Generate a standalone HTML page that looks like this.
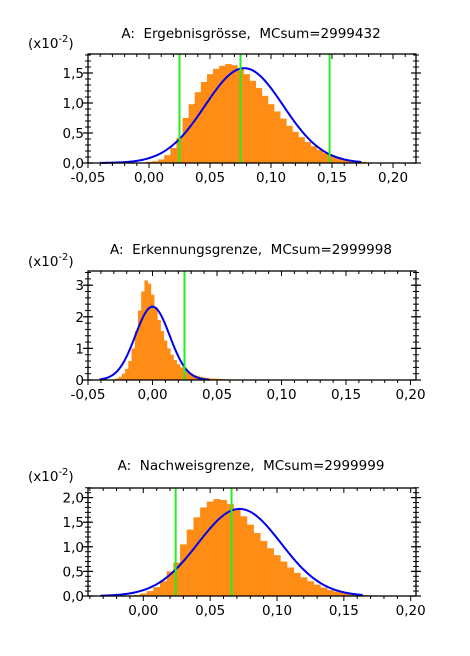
<!DOCTYPE html>
<html><head><meta charset="utf-8"><style>
body{margin:0;background:#fff;width:470px;height:651px;overflow:hidden}
svg{font-family:"DejaVu Sans","Liberation Sans",sans-serif}
svg text{white-space:pre}
</style></head><body>
<svg id="s" width="470" height="651"></svg>
<script>
// Chart 1 data: Ergebnisgroesse
const c1Start = 0.0, c1Step = 0.005;
const c1Hist = [0.02,0.03,0.06,0.13,0.25,0.42,0.75,0.98,1.18,1.35,1.48,1.57,1.62,1.65,1.63,1.57,1.48,1.37,1.25,1.12,0.98,0.86,0.74,0.62,0.52,0.43,0.35,0.28,0.22,0.17,0.13,0.1,0.07,0.05,0.035,0.02,0.01];
const c1Fit = [0.078, 0.032, 1.58]; // mean, sd, peak
const c1Green = [0.025, 0.075, 0.148];
const c1XTicks = ["-0,05","0,00","0,05","0,10","0,15","0,20"];
const c1XTickVals = [-0.05,0,0.05,0.1,0.15,0.2];
const c1YTicks = ["0,0","0,5","1,0","1,5"];
const c1YTickVals = [0,0.5,1.0,1.5];
// Chart 2 data: Erkennungsgrenze
const c2Start = -0.03, c2Step = 0.0025;
const c2Hist = [0.02,0.05,0.1,0.2,0.35,0.6,1.0,1.55,2.2,2.8,3.15,3.05,2.7,2.3,1.9,1.55,1.25,1.0,0.8,0.63,0.5,0.4,0.32,0.25,0.2,0.16,0.13,0.1,0.08,0.065,0.05,0.045,0.04,0.035,0.03,0.025,0.02,0.018,0.015,0.012,0.01];
const c2Fit = [0.0, 0.0133, 2.32];
const c2Green = [0.0248];
const c2XTicks = ["-0,05","0,00","0,05","0,10","0,15","0,20"];
const c2XTickVals = [-0.05,0,0.05,0.1,0.15,0.2];
const c2YTicks = ["0","1","2","3"];
const c2YTickVals = [0,1,2,3];
// Chart 3 data: Nachweisgrenze
const c3Start = -0.005, c3Step = 0.005;
const c3Hist = [0.02,0.05,0.1,0.18,0.3,0.5,0.68,1.05,1.35,1.6,1.8,1.92,1.97,1.95,1.87,1.75,1.62,1.45,1.28,1.12,0.97,0.83,0.7,0.58,0.47,0.38,0.3,0.23,0.17,0.12,0.09,0.065,0.045,0.03,0.02,0.015,0.01,0.005,0.003,0.002];
const c3Fit = [0.072, 0.031, 1.77];
const c3Green = [0.0242, 0.066];
const c3XTicks = ["0,00","0,05","0,10","0,15","0,20"];
const c3XTickVals = [0,0.05,0.1,0.15,0.2];
const c3YTicks = ["0,0","0,5","1,0","1,5","2,0"];
const c3YTickVals = [0,0.5,1.0,1.5,2.0];

const NS="http://www.w3.org/2000/svg";
const svg=document.getElementById('s');
function mk(tag,attrs,parent){const e=document.createElementNS(NS,tag);for(const k in attrs)e.setAttribute(k,attrs[k]);(parent||svg).appendChild(e);return e;}

function chart(o){
  const g=mk('g',{});
  
  
  const X=v=>o.x0+(v-o.xmin)*o.xs;
  const Y=v=>o.yb-v*o.ys;
  const hg=mk('g',{},g);
  
  
  o.hist.forEach((h,i)=>{
    const c=o.start+i*o.step;
    const xa=X(c-o.step/2), xb=X(c+o.step/2);
    const r=mk('rect',{x:xa,y:Y(h),width:Math.max(0.5,xb-xa)+0.3,height:o.yb-Y(h),fill:'#ff8c14'},hg);
    
    
  });
  let d='';
  const [mu,sd,pk]=o.fit;
  for(let v=o.fitFrom;v<=o.fitTo;v+=0.001){
    const yv=pk*Math.exp(-((v-mu)*(v-mu))/(2*sd*sd));
    d+=(d?'L':'M')+X(v).toFixed(2)+','+Y(yv).toFixed(2);
  }
  const p=mk('path',{d:d,fill:'none',stroke:'#0000ee','stroke-width':2},g);
  
  
  o.green.forEach(v=>{
    const l=mk('line',{x1:X(v),x2:X(v),y1:o.yt,y2:o.yb,stroke:'#22ee22','stroke-width':2},g);
    
    
  });
  const f=mk('rect',{x:o.x0,y:o.yt,width:o.x1-o.x0,height:o.yb-o.yt,fill:'none',stroke:'#000','stroke-width':1.3},g);
  
  
  for(let k=-10;k<=25;k++){
    const v=k*0.01;const x=X(v);
    if(x<o.x0-0.5||x>o.x1+0.5)continue;
    const major=(k%5===0);const L=major?5:3;
    mk('line',{x1:x,x2:x,y1:o.yb,y2:o.yb+L,stroke:'#000','stroke-width':1},g);
    mk('line',{x1:x,x2:x,y1:o.yt,y2:o.yt+L,stroke:'#000','stroke-width':1},g);
  }
  for(let v=0;Y(v)>=o.yt-0.5;v+=o.yminor){
    const y=Y(v);
    mk('line',{x1:o.x0-3,x2:o.x0+3,y1:y,y2:y,stroke:'#000','stroke-width':1},g);
    mk('line',{x1:o.x1-3,x2:o.x1+3,y1:y,y2:y,stroke:'#000','stroke-width':1},g);
  }
  o.yTickVals.forEach((v,i)=>{
    const y=Y(v);
    mk('line',{x1:o.x0-5,x2:o.x0+5,y1:y,y2:y,stroke:'#000','stroke-width':1.2},g);
    mk('line',{x1:o.x1-5,x2:o.x1+5,y1:y,y2:y,stroke:'#000','stroke-width':1.2},g);
    const t=mk('text',{x:o.x0-4,y:y+5,'text-anchor':'end','font-size':13.5},g);
    t.textContent=o.yTicks[i];
    
    
  });
  o.xTickVals.forEach((v,i)=>{
    const t=mk('text',{x:X(v),y:o.yb+19,'text-anchor':'middle','font-size':13.5},g);
    t.textContent=o.xTicks[i];
    
    
  });
  const tt=mk('text',{x:o.titleX,y:o.titleY,'text-anchor':'middle','font-size':13.5},g);
  tt.textContent=o.title;
  
  
  const u=mk('text',{x:28,y:o.unitY,'font-size':13.5},g);
  u.innerHTML='(x10<tspan dy="-6" font-size="10">-2</tspan><tspan dy="6">)</tspan>';
  
  
}

chart({name:'ergebnisgroesse-chart',x0:88,x1:416,yt:54,yb:163,xmin:-0.05,xs:1220,ys:60,
  start:c1Start,step:c1Step,hist:c1Hist,fit:c1Fit,fitFrom:-0.04,fitTo:0.175,green:c1Green,
  xTicks:c1XTicks,xTickVals:c1XTickVals,yTicks:c1YTicks,yTickVals:c1YTickVals,yminor:0.1,
  title:'A:  Ergebnisgrösse,  MCsum=2999432',titleX:251,titleY:38,unitY:48});
chart({name:'erkennungsgrenze-chart',x0:88,x1:416,yt:271,yb:380,xmin:-0.05,xs:1290,ys:31.6,
  start:c2Start,step:c2Step,hist:c2Hist,fit:c2Fit,fitFrom:-0.041,fitTo:0.045,green:c2Green,
  xTicks:c2XTicks,xTickVals:c2XTickVals,yTicks:c2YTicks,yTickVals:c2YTickVals,yminor:0.2,
  title:'A:  Erkennungsgrenze,  MCsum=2999998',titleX:251,titleY:254,unitY:266});
chart({name:'nachweisgrenze-chart',x0:88,x1:416,yt:488,yb:596,xmin:0-143.3/1337+88/1337,xs:1337,ys:49.2,
  start:c3Start,step:c3Step,hist:c3Hist,fit:c3Fit,fitFrom:-0.032,fitTo:0.165,green:c3Green,
  xTicks:c3XTicks,xTickVals:c3XTickVals,yTicks:c3YTicks,yTickVals:c3YTickVals,yminor:0.1,
  title:'A:  Nachweisgrenze,  MCsum=2999999',titleX:251,titleY:470,unitY:481});
</script>
</body></html>
